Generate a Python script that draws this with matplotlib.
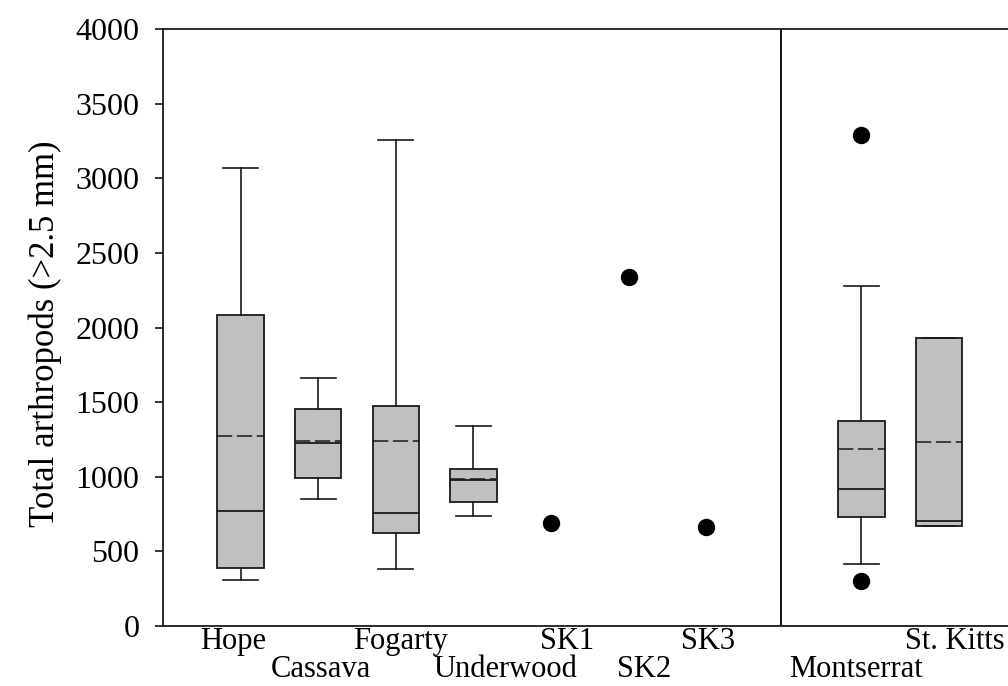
import matplotlib
matplotlib.use("Agg")
import matplotlib.pyplot as plt
from matplotlib.transforms import ScaledTranslation

# Sites with full five-number summaries (box plots)
box_sites = ["Hope", "Cassava", "Fogarty", "Underwood", "Montserrat", "St. Kitts"]
box_pos = [1, 2, 3, 4, 9, 10]
q1 = [389, 992, 623, 829, 732, 667]
median = [772, 1228, 757, 975, 921, 701]
q3 = [2082, 1456, 1474, 1052, 1375, 1928]
whisker_low = [306, 853, 384, 737, 413, 667]
whisker_high = [3066, 1664, 3258, 1342, 2280, 1928]
mean = [1275, 1240, 1242, 988, 1184, 1233]
outliers = [[], [], [], [], [3290, 301], []]

# Sites with a single sample
single_sites = ["SK1", "SK2", "SK3"]
single_pos = [5, 6, 7]
single_values = [690, 2336, 660]

# Axis labels
y_label = "Total arthropods (>2.5 mm)"
y_ticks = [0, 500, 1000, 1500, 2000, 2500, 3000, 3500, 4000]

plt.rcParams["font.family"] = ["Liberation Serif", "DejaVu Serif"]

W, H = 1008, 686
fig = plt.figure(figsize=(W / 100, H / 100), dpi=100)
unit = 77.6
ax = fig.add_axes([163 / W, 60 / H, 11 * unit / W, 597 / H])

stats = []
for i, name in enumerate(box_sites):
    stats.append(dict(label=name, q1=q1[i], med=median[i], q3=q3[i],
                      whislo=whisker_low[i], whishi=whisker_high[i],
                      mean=mean[i], fliers=outliers[i]))

ax.bxp(stats, positions=box_pos, widths=0.6, capwidths=0.45,
       patch_artist=True, showmeans=True, meanline=True,
       boxprops=dict(facecolor="#c0c0c0", edgecolor="#1a1a1a", linewidth=1.3),
       medianprops=dict(color="#1a1a1a", linewidth=1.3),
       meanprops=dict(color="#1a1a1a", linewidth=1.1, linestyle=(0, (10, 3))),
       whiskerprops=dict(color="#1a1a1a", linewidth=1.2),
       capprops=dict(color="#1a1a1a", linewidth=1.2),
       flierprops=dict(marker="o", markerfacecolor="black",
                       markeredgecolor="black", markersize=11.5),
       manage_ticks=False)

ax.plot(single_pos, single_values, linestyle="none", marker="o",
        markerfacecolor="black", markeredgecolor="black", markersize=11.5)

# Separator between the site panel and the island panel
ax.axvline(7.96, color="black", linewidth=1.3)

ax.set_xlim(0, 11)
ax.set_ylim(0, 4000)
ax.set_yticks(y_ticks)
ax.tick_params(axis="y", direction="out", length=6, width=1.1,
               labelsize=23, pad=11)

# Category labels, staggered on two rows
all_pos = box_pos[:4] + single_pos + box_pos[4:]
all_names = box_sites[:4] + single_sites + box_sites[4:]
ax.set_xticks(all_pos)
ax.set_xticklabels(all_names, fontsize=22)
ax.tick_params(axis="x", length=0, pad=1)
shift_px = [-7, 3, 5, 32, 16, 15, 2, -5, 16]
for k, lab in enumerate(ax.get_xticklabels()):
    dy = 0 if k % 2 == 0 else -28
    lab.set_transform(lab.get_transform() +
                      ScaledTranslation(shift_px[k] / 100, dy / 100,
                                        fig.dpi_scale_trans))

ax.set_ylabel(y_label, fontsize=25)
ax.yaxis.set_label_coords(-0.118, 0.49)

for side in ["left", "bottom", "top", "right"]:
    ax.spines[side].set_linewidth(1.3)
    ax.spines[side].set_color("#1a1a1a")

fig.savefig("out.png", dpi=100)
